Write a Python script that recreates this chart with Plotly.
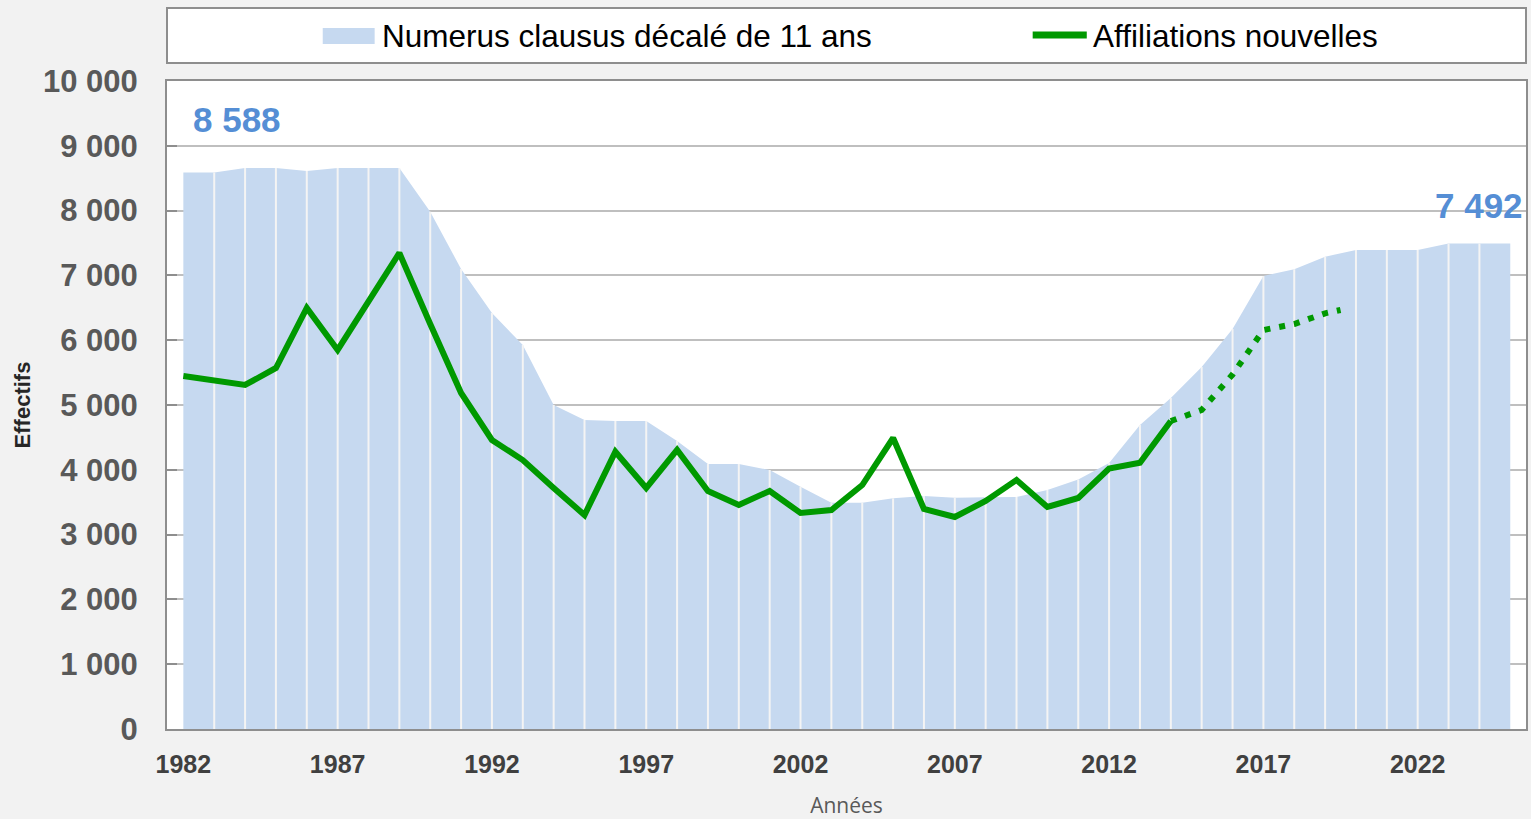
import plotly.graph_objects as go

# ---------------- data ----------------
years = list(range(1982, 2026))
numerus_clausus = [8588, 8588, 8657, 8657, 8611, 8657, 8657, 8657, 7983, 7099,
                   6420, 5926, 5000, 4769, 4753, 4753, 4444, 4090, 4090, 3997,
                   3739, 3492, 3492, 3560, 3596, 3570, 3575, 3580, 3688, 3850,
                   4105, 4691, 5108, 5586, 6173, 6991, 7094, 7289, 7392, 7392,
                   7392, 7492, 7492, 7492]

aff_years = list(range(1982, 2015))
affiliations = [5448, 5386, 5309, 5571, 6497, 5849, 6590, 7346, 6250, 5185,
                4460, 4151, 3720, 3302, 4279, 3719, 4306, 3673, 3457, 3673,
                3333, 3380, 3765, 4491, 3395, 3272, 3519, 3843, 3426, 3565,
                4020, 4110, 4753]

proj_years = [2014, 2015, 2016, 2017, 2018, 2019, 2019.5]
proj_values = [4753, 4923, 5470, 6157, 6250, 6415, 6466]

y_ticks = list(range(0, 10001, 1000))
x_ticks = [1982, 1987, 1992, 1997, 2002, 2007, 2012, 2017, 2022]

legend_labels = ["Numerus clausus décalé de 11 ans", "Affiliations nouvelles"]

# ---------------- styles ----------------
AREA = "#C6D9F0"
GREEN = "#009900"
LABEL_BLUE = "#558ED5"
ARIAL = "Liberation Sans, Arial, sans-serif"


def fmt(v):
    return f"{v:,}".replace(",", " ")


fig = go.Figure()

fig.add_trace(go.Scatter(
    x=years, y=numerus_clausus, mode="lines", fill="tozeroy",
    fillcolor=AREA, line=dict(width=0, color=AREA),
    name=legend_labels[0], showlegend=False, hoverinfo="x+y"))

# white separators at each year inside the area
inner_years = years[1:-1]
inner_vals = numerus_clausus[1:-1]
fig.add_trace(go.Scatter(
    x=inner_years, y=inner_vals, mode="markers",
    marker=dict(size=0, opacity=0),
    error_y=dict(type="data", symmetric=False, array=[0] * len(inner_vals),
                 arrayminus=inner_vals, color="#F4F4F4", thickness=2, width=0),
    showlegend=False, hoverinfo="skip"))

fig.add_trace(go.Scatter(
    x=aff_years, y=affiliations, mode="lines",
    line=dict(color=GREEN, width=6), name=legend_labels[1], showlegend=False))

fig.add_trace(go.Scatter(
    x=proj_years, y=proj_values, mode="lines",
    line=dict(color=GREEN, width=6, dash="6px,9px"), showlegend=False))

# value labels
fig.add_annotation(x=years[0], y=numerus_clausus[0], text=fmt(numerus_clausus[0]),
                   xanchor="left", yanchor="middle", xshift=8, yshift=53,
                   showarrow=False,
                   font=dict(family=ARIAL, size=35, color=LABEL_BLUE, weight="bold"))
fig.add_annotation(x=years[-1], y=numerus_clausus[-1], text=fmt(numerus_clausus[-1]),
                   xanchor="right", yanchor="middle", xshift=15, yshift=38,
                   showarrow=False,
                   font=dict(family=ARIAL, size=35, color=LABEL_BLUE, weight="bold"))

# legend box (manual)
fig.add_shape(type="rect", xref="paper", yref="paper", x0=0, x1=1,
              y0=1.0278, y1=1.1127, line=dict(color="#8E8E8E", width=2),
              fillcolor="white", layer="above")
fig.add_shape(type="rect", xref="paper", yref="paper", x0=0.1146, x1=0.1528,
              y0=1.0571, y1=1.0818, line=dict(width=0), fillcolor=AREA)
fig.add_shape(type="line", xref="paper", yref="paper", x0=0.6370, x1=0.6768,
              y0=1.0710, y1=1.0710, line=dict(color=GREEN, width=7))
fig.add_annotation(xref="paper", yref="paper", x=0.1568, y=1.0700,
                   text=legend_labels[0], xanchor="left", yanchor="middle",
                   showarrow=False, font=dict(family=ARIAL, size=31.5, color="black"))
fig.add_annotation(xref="paper", yref="paper", x=0.6800, y=1.0700,
                   text=legend_labels[1], xanchor="left", yanchor="middle",
                   showarrow=False, font=dict(family=ARIAL, size=31.5, color="black"))

fig.update_layout(
    width=1531, height=819, autosize=False,
    margin=dict(l=167, r=3, t=81, b=90),
    paper_bgcolor="#F2F2F2", plot_bgcolor="white",
    separators=", ",
    showlegend=False,
    xaxis=dict(range=[1981.47, 2025.51], tickvals=x_ticks,
               ticks="", showgrid=False, zeroline=False,
               showline=True, mirror=True, linecolor="#8E8E8E", linewidth=2,
               tickfont=dict(family=ARIAL, size=25, color="#404040", weight="bold"),
               ticklabelstandoff=12,
               title=dict(text="Années", standoff=22,
                          font=dict(family="Open Sans, sans-serif", size=21, color="#595959"))),
    yaxis=dict(range=[0, 10000], tickvals=y_ticks, tickformat=",d",
               ticks="inside", ticklen=10, tickwidth=2, tickcolor="#8E8E8E",
               showgrid=True, gridcolor="#BFBFBF", gridwidth=1.5, zeroline=False,
               showline=True, mirror=True, linecolor="#8E8E8E", linewidth=2,
               tickfont=dict(family=ARIAL, size=31, color="#595959", weight="bold"),
               ticklabelstandoff=21,
               title=dict(text="Effectifs", standoff=6,
                          font=dict(family=ARIAL, size=22, color="#262626", weight="bold"))),
)

fig.write_html("out.html",
               config={"displayModeBar": False},
               post_script="document.body.style.margin='0';"
                           "document.body.style.background='#F2F2F2';")
